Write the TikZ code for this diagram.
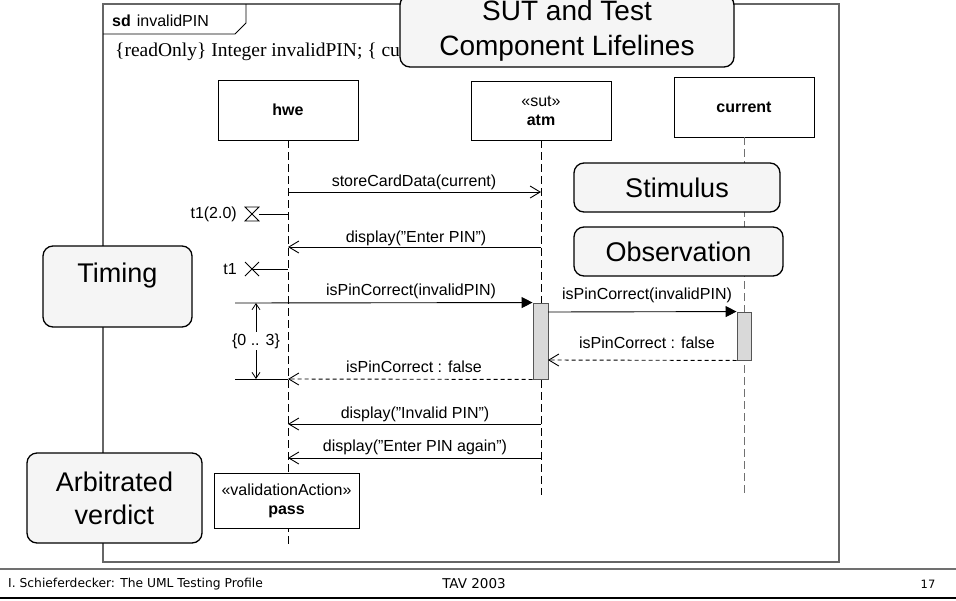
\documentclass[tikz,border=0pt]{standalone}
\usepackage{fontspec}
\setmainfont{Liberation Sans}
\newfontfamily\serifx{Liberation Serif}
\newfontfamily\footfont{DejaVu Sans}
\usetikzlibrary{arrows.meta}
\definecolor{framecol}{HTML}{666666}
\definecolor{calloutfill}{HTML}{F5F5F5}
\definecolor{actfill}{HTML}{D9D9D9}
\definecolor{actdraw}{HTML}{555555}
\definecolor{footgray}{HTML}{707070}
\tikzset{
  msgfont/.style={font=\fontsize{16}{19}\selectfont},
  bigfont/.style={font=\fontsize{27}{33}\selectfont},
  calloutbox/.style={draw=black, line width=1.3pt, fill=calloutfill, rounded corners=10pt, bigfont, align=center, inner sep=0pt},
  headbox/.style={draw=black, line width=0.8pt, fill=white, msgfont, align=center, inner sep=0pt},
  lifeline/.style={line width=0.8pt, dash pattern=on 8pt off 4pt},
  activation/.style={draw=actdraw, fill=actfill, line width=0.9pt, inner sep=0pt, minimum width=15pt},
  syncmsg/.style={-{Triangle[length=11pt,width=11pt]}, line width=0.9pt},
  openmsg/.style={-{Straight Barb[length=10pt,width=12pt]}, line width=0.9pt},
  replymsg/.style={openmsg, dash pattern=on 4pt off 3pt},
  durarrow/.style={{Straight Barb[length=6pt,width=8pt]}-{Straight Barb[length=6pt,width=8pt]}, line width=0.8pt},
  lbl/.style={msgfont, inner sep=0pt},
  foot/.style={inner sep=0pt},
}
\begin{document}
\begin{tikzpicture}[x=1pt,y=-1pt]
\useasboundingbox (0,0) rectangle (956,600);
\fill[white] (0,0) rectangle (956,600);

% interaction frame
\draw[framecol, line width=1.5pt] (103,4) rectangle (839,562);
\draw[line width=0.8pt] (103,34) -- (235,34) -- (246,23) -- (246,4);
\node[anchor=west, msgfont, inner sep=0pt] (sdlabel) at (112,21) {\textbf{sd}\hspace{6pt}invalidPIN};
\node[anchor=west, font=\serifx\fontsize{19.5}{22}\selectfont, inner sep=0pt] (attr) at (115,52) {\{readOnly\} Integer invalidPIN; \{ current};

% lifeline heads
\node[headbox, minimum width=140, minimum height=60] (hwe) at (288,110) {\textbf{hwe}};
\node[headbox, minimum width=140, minimum height=59] (atm) at (541,110.5) {«sut»\\\textbf{atm}};
\node[headbox, minimum width=140, minimum height=60] (cur) at (744,107) {\textbf{current}};

% lifelines
\coordinate (hweend) at (288,545);
\coordinate (atmend) at (541,495);
\coordinate (curend) at (744,495);
\draw[lifeline] (hwe.south) -- (hweend);
\draw[lifeline] (atm.south) -- (atmend);
\draw[lifeline, color=footgray] (cur.south) -- (curend);

% activations
\node[activation, minimum height=76] (act1) at (540.5,341) {};
\node[activation, minimum height=48, minimum width=14] (act2) at (744,336) {};

% storeCardData
\coordinate (m1a) at (288,192);
\coordinate (m1b) at (541,192);
\draw[openmsg] (m1a) -- (m1b);
\node[lbl] (l1) at (414,182) {storeCardData(current)};

% start timer
\coordinate (t2a) at (259,214);
\coordinate (t2b) at (288,214);
\draw[line width=0.8pt] (t2a) -- (t2b);
\draw[line width=0.8pt] (245,207) -- (259,207) -- (245,221) -- (259,221) -- cycle;
\node[lbl, anchor=east] (tstart) at (237,214) {t1(2.0)};

% display Enter PIN
\coordinate (m2a) at (541,247);
\coordinate (m2b) at (288,247);
\draw[openmsg] (m2a) -- (m2b);
\node[lbl] (l2) at (416,238) {display(”Enter PIN”)};

% stop timer
\coordinate (t3a) at (252,269);
\coordinate (t3b) at (288,269);
\draw[line width=0.8pt] (t3a) -- (t3b);
\draw[line width=0.8pt] (245,262) -- (259,276) (245,276) -- (259,262);
\node[lbl, anchor=east] (tstop) at (237,269) {t1};

% isPinCorrect hwe -> atm
\coordinate (m3a) at (235,303);
\draw[syncmsg] (m3a) -- (act1.north west);
\node[lbl] (l3) at (411,291) {isPinCorrect(invalidPIN)};

% isPinCorrect atm -> current
\coordinate (m4a) at (548,312);
\draw[syncmsg] (m4a) -- (act2.north west);
\node[lbl] (l4) at (647,295) {isPinCorrect(invalidPIN)};

% reply current -> atm
\coordinate (m5b) at (548,360);
\draw[replymsg] (act2.south west) -- (m5b);
\node[lbl] (l5) at (647,343) {isPinCorrect : false};

% reply atm -> hwe
\coordinate (m6b) at (288,379);
\coordinate (m6c) at (235,379);
\draw[replymsg] (act1.south west) -- (m6b);
\draw[line width=0.9pt] (m6c) -- (m6b);
\node[lbl] (l6) at (414,367) {isPinCorrect : false};

% duration constraint
\coordinate (d1) at (256,303);
\coordinate (d2) at (256,379);
\draw[durarrow] (d1) -- node[lbl, fill=white, inner sep=2pt] (dlab) {\{0 .. 3\}} (d2);

% display Invalid PIN
\coordinate (m8a) at (541,424);
\coordinate (m8b) at (288,424);
\draw[openmsg] (m8a) -- (m8b);
\node[lbl] (l8) at (415,414) {display(”Invalid PIN”)};

% display Enter PIN again
\coordinate (m9a) at (541,458);
\coordinate (m9b) at (288,458);
\draw[openmsg] (m9a) -- (m9b);
\node[lbl] (l9) at (415,447) {display(”Enter PIN again”)};

% verdict
\node[headbox, minimum width=145, minimum height=55] (pass) at (286.5,500.5) {«validationAction»\\\textbf{pass}};

% callouts
\node[calloutbox, font=\fontsize{28}{35}\selectfont, minimum width=334, minimum height=72] (sut) at (567,31) {SUT and Test\\Component Lifelines};
\node[calloutbox, minimum width=206, minimum height=49] (stim) at (677,187.5) {Stimulus};
\node[calloutbox, minimum width=209, minimum height=49] (obs) at (678.5,251.5) {Observation};
\node[calloutbox, minimum width=149, minimum height=81] (timing) at (117.5,286.5) {};
\node[bigfont, inner sep=0pt] (timingtxt) at (117.5,276) {Timing};
\node[calloutbox, minimum width=175, minimum height=90] (arb) at (114.5,498) {Arbitrated\\verdict};

% footer
\draw[footgray, line width=2pt] (0,569) -- (956,569);
\draw[black, line width=2pt] (0,598) -- (956,598);
\node[foot, anchor=west, font=\footfont\fontsize{12.3}{14}\selectfont] (footl) at (8,584) {I. Schieferdecker: The UML Testing Profile};
\node[foot, font=\footfont\fontsize{13.5}{15}\selectfont] (footc) at (474,584) {TAV 2003};
\node[foot, font=\footfont\fontsize{11.5}{13}\selectfont] (footr) at (928,584) {17};
\end{tikzpicture}
\end{document}
